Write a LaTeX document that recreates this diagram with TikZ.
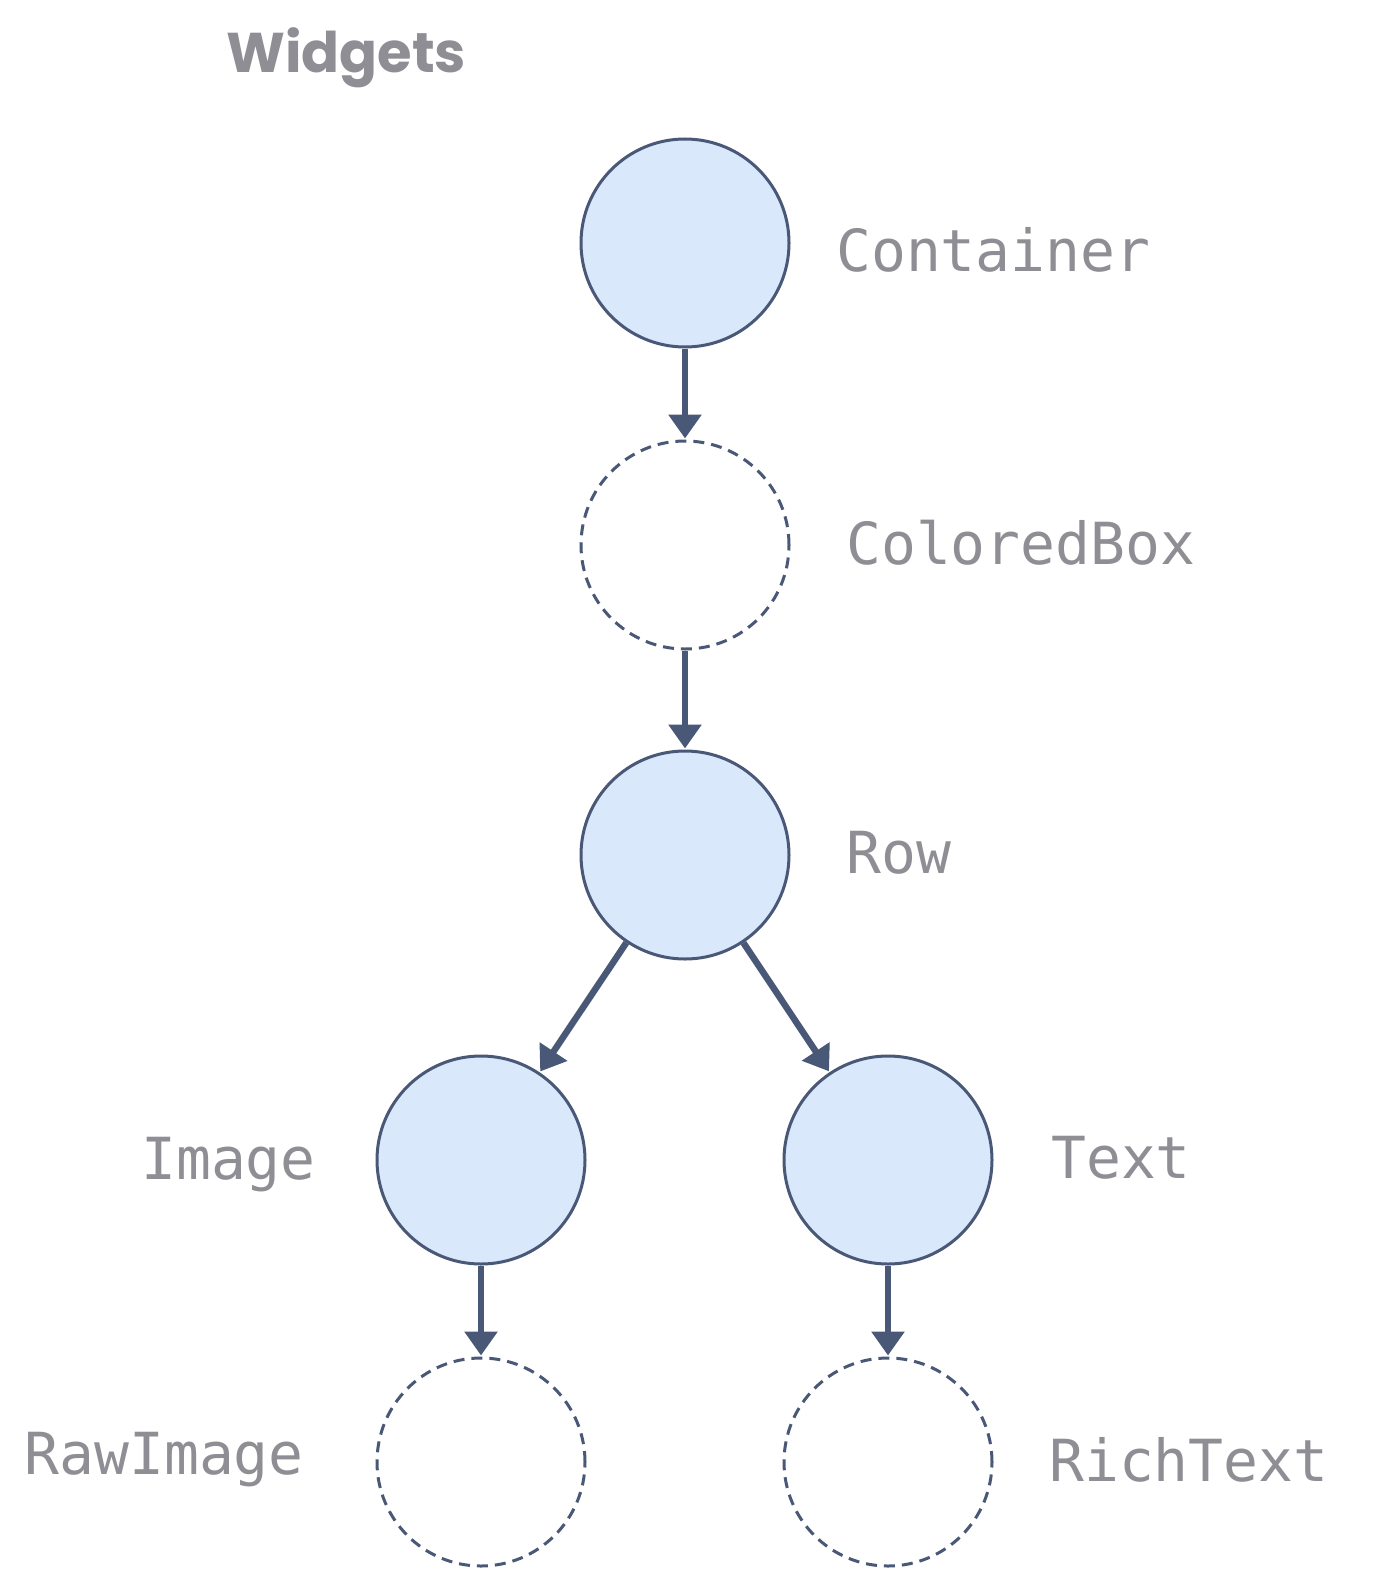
\documentclass[tikz,border=0pt]{standalone}
\usepackage{fontspec}
\newfontfamily\monof{DejaVu Sans Mono}
\newfontfamily\titlef{Poppins}
\usetikzlibrary{arrows.meta}
\definecolor{edge}{HTML}{4A5877}
\definecolor{fillc}{HTML}{DAE8FC}
\definecolor{txt}{HTML}{8F8E94}
\begin{document}
\begin{tikzpicture}[x=1bp,y=-1bp,
  wbase/.style={circle,draw=edge,line width=3bp,minimum size=208bp,inner sep=0pt},
  wsolid/.style={wbase,fill=fillc},
  wdash/.style={wbase,dash pattern=on 11bp off 7bp,fill=white},
  lab/.style={text=txt,font=\monof\fontsize{58bp}{62bp}\selectfont,inner sep=0pt},
  arr/.style={draw=edge,line width=6.5bp,-{Triangle[length=24bp,width=32bp]},shorten >=1bp}]
\useasboundingbox (0,0) rectangle (1376,1593);
\node[text=txt,font=\titlef\bfseries\fontsize{56bp}{60bp}\selectfont,anchor=west,inner sep=0pt] (title) at (226,58) {Widgets};
\node[wsolid] (c) at (685,243) {};
\node[wdash] (cb) at (685,545) {};
\node[wsolid] (r) at (685,855) {};
\node[wsolid] (i) at (481,1160) {};
\node[wsolid] (t) at (888,1160) {};
\node[wdash] (ri) at (481,1462) {};
\node[wdash] (rt) at (888,1462) {};
\node[lab,anchor=west] (lc) at (836,250) {Container};
\node[lab,anchor=west] (lcb) at (846,543) {ColoredBox};
\node[lab,anchor=west] (lr) at (846,853) {Row};
\node[lab,anchor=east] (li) at (316,1165) {Image};
\node[lab,anchor=west] (lt) at (1051,1158) {Text};
\node[lab,anchor=east] (lri) at (304,1460) {RawImage};
\node[lab,anchor=west] (lrt) at (1049,1460) {RichText};
\draw[arr] (c) -- (cb);
\draw[arr] (cb) -- (r);
\draw[arr] (r) -- (i);
\draw[arr] (r) -- (t);
\draw[arr] (i) -- (ri);
\draw[arr] (t) -- (rt);
\end{tikzpicture}
\end{document}
